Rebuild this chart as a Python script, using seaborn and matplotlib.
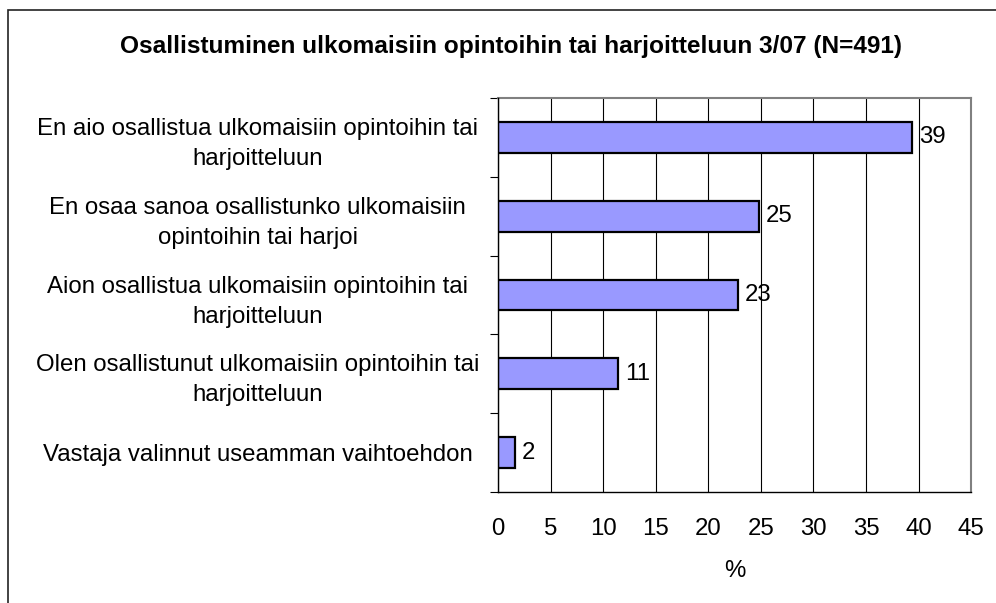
import matplotlib
matplotlib.use("Agg")
import matplotlib.pyplot as plt
import seaborn as sns
import pandas as pd
from matplotlib.patches import Rectangle

# --- Data ---
categories = [
    "En aio osallistua ulkomaisiin opintoihin tai\nharjoitteluun",
    "En osaa sanoa osallistunko ulkomaisiin\nopintoihin tai harjoi",
    "Aion osallistua ulkomaisiin opintoihin tai\nharjoitteluun",
    "Olen osallistunut ulkomaisiin opintoihin tai\nharjoitteluun",
    "Vastaja valinnut useamman vaihtoehdon",
]
values = [39.4, 24.8, 22.8, 11.4, 1.6]
value_labels = ["39", "25", "23", "11", "2"]
x_ticks = [0, 5, 10, 15, 20, 25, 30, 35, 40, 45]

title = "Osallistuminen ulkomaisiin opintoihin tai harjoitteluun 3/07 (N=491)"

df = pd.DataFrame({"kategoria": categories, "arvo": values})

# --- Style ---
sns.set_theme(style="white")
plt.rcParams['font.family'] = ['Liberation Sans', 'DejaVu Sans']
plt.rcParams['text.color'] = 'black'
plt.rcParams['xtick.color'] = 'black'
plt.rcParams['ytick.color'] = 'black'
plt.rcParams['axes.labelcolor'] = 'black'
fs = 17.3

fig = plt.figure(figsize=(9.96, 6.03), dpi=100)
ax = fig.add_axes([0.5, 0.184, 0.475, 0.6535])

sns.barplot(data=df, y="kategoria", x="arvo", orient="h", color="#9999FF",
            saturation=1, width=0.39, edgecolor="black", linewidth=1.6,
            ax=ax, zorder=3)

ax.set_xlim(0, 45)
ax.set_ylim(4.5, -0.5)
ax.set_xticks(x_ticks)
ax.set_xticklabels([str(t) for t in x_ticks], fontsize=fs)
ax.tick_params(axis="x", direction="inout", length=10, width=0.8, pad=14)

# labels on category centers, tick marks on boundaries
ax.set_yticks(range(len(categories)))
ax.set_yticklabels(categories, fontsize=fs, ha="center", multialignment="center",
                   linespacing=1.47)
ax.tick_params(axis="y", which="major", length=0, pad=173)
ax.set_yticks([i - 0.5 for i in range(len(categories) + 1)], minor=True)
ax.tick_params(axis="y", which="minor", length=6, width=0.8, left=True)

ax.xaxis.grid(True, color="black", linewidth=0.8)
ax.set_axisbelow(True)

for side in ["left", "bottom"]:
    ax.spines[side].set_color("black")
    ax.spines[side].set_linewidth(1.0)
    ax.spines[side].set_zorder(4)
for side in ["top", "right"]:
    ax.spines[side].set_color("#808080")
    ax.spines[side].set_linewidth(1.5)

ax.set_xlabel("%", fontsize=fs, labelpad=14)
ax.set_ylabel("")

for i, (v, lab) in enumerate(zip(values, value_labels)):
    ax.annotate(lab, xy=(v, i), xytext=(5, 0), textcoords="offset points",
                va="center", ha="left", fontsize=fs)

fig.text(0.513, 1 - 47 / 603, title, ha="center", va="center",
         fontsize=17.6, fontweight="bold")

# outer chart frame (only left and top edges visible in the crop)
fig.patches.append(Rectangle((8 / 996, -0.2), 1.5, 1.2 - 10 / 603,
                             transform=fig.transFigure, fill=False,
                             edgecolor="#222222", linewidth=1.2))

fig.savefig("out.png", dpi=100)
